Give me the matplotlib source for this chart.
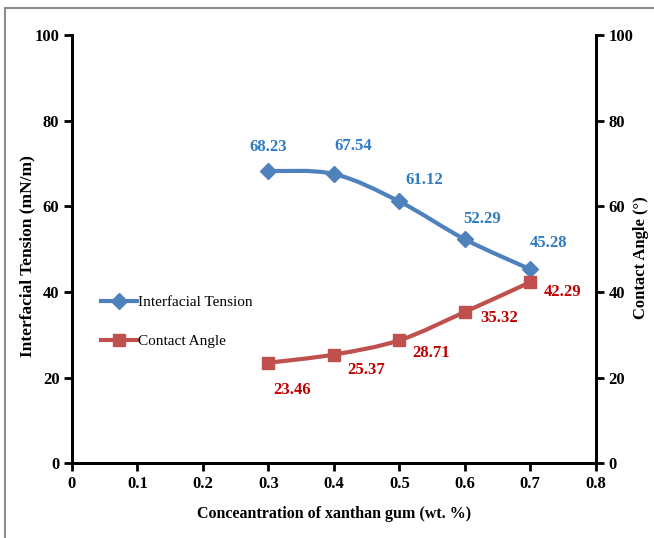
import matplotlib
matplotlib.use("Agg")
import matplotlib.pyplot as plt
from matplotlib.path import Path
from matplotlib.patches import PathPatch
from matplotlib.lines import Line2D
import numpy as np

concentration = [0.3, 0.4, 0.5, 0.6, 0.7]
tension = [68.23, 67.54, 61.12, 52.29, 45.28]
angle = [23.46, 25.37, 28.71, 35.32, 42.29]

blue = "#4f81bd"
red = "#c0504d"
blue_txt = "#2e7bc4"
red_txt = "#c00000"

plt.rcParams["font.family"] = "Liberation Serif"


def smooth_path(xs, ys):
    # Excel-style smoothed line: cubic bezier through every point
    pts = np.column_stack([xs, ys])
    verts = [pts[0]]
    codes = [Path.MOVETO]
    n = len(pts)
    for i in range(n - 1):
        p0 = pts[max(i - 1, 0)]
        p1 = pts[i]
        p2 = pts[i + 1]
        p3 = pts[min(i + 2, n - 1)]
        c1 = p1 + (p2 - p0) / 6.0
        c2 = p2 - (p3 - p1) / 6.0
        verts += [c1, c2, p2]
        codes += [Path.CURVE4] * 3
    return Path(verts, codes)


fig = plt.figure(figsize=(6.54, 5.38), dpi=100)
ax = fig.add_axes([0.110, 0.139, 0.801, 0.796])
ax2 = ax.twinx()

ax.add_patch(PathPatch(smooth_path(concentration, tension), fill=False,
                       edgecolor=blue, lw=3, capstyle="round", zorder=2))
ax.add_patch(PathPatch(smooth_path(concentration, angle), fill=False,
                       edgecolor=red, lw=3, capstyle="round", zorder=2))
ax.plot(concentration, tension, linestyle="none", marker="D", ms=8,
        color=blue, zorder=3)
ax.plot(concentration, angle, linestyle="none", marker="s", ms=9,
        color=red, zorder=3)

blue_off = [(0, 24), (19, 28), (25, 21), (17, 20), (18, 26)]
red_off = [(24, -27), (32, -15), (32, -13), (34, -6), (32, -10)]
for x, y, o in zip(concentration, tension, blue_off):
    ax.annotate(f"{y:.2f}", (x, y), xytext=o, textcoords="offset pixels",
                ha="center", va="center", color=blue_txt, fontsize=12,
                fontweight="bold")
for x, y, o in zip(concentration, angle, red_off):
    ax.annotate(f"{y:.2f}", (x, y), xytext=o, textcoords="offset pixels",
                ha="center", va="center", color=red_txt, fontsize=12,
                fontweight="bold")

ax.set_xlim(0, 0.8)
ax.set_ylim(0, 100)
ax2.set_ylim(0, 100)
ax.set_xticks(np.arange(0, 0.81, 0.1))
ax.set_xticklabels(["0", "0.1", "0.2", "0.3", "0.4", "0.5", "0.6", "0.7", "0.8"])
ax.set_yticks(range(0, 101, 20))
ax2.set_yticks(range(0, 101, 20))

for a in (ax, ax2):
    a.spines["top"].set_visible(False)
    for s in a.spines.values():
        s.set_linewidth(2)
    a.tick_params(width=2, length=6, labelsize=12, pad=3)
    for lab in a.get_xticklabels() + a.get_yticklabels():
        lab.set_fontweight("bold")

ax.set_xlabel("Conceantration of xanthan gum (wt. %)", fontsize=11.5,
              fontweight="bold", labelpad=10)
fig.text(27 / 654, 1 - 256 / 538, "Interfacial Tension (mN/m)", rotation=90,
         ha="center", va="center", fontsize=12.5, fontweight="bold")
fig.text(641 / 654, 1 - 258 / 538, "Contact Angle (°)", rotation=90,
         ha="center", va="center", fontsize=12, fontweight="bold")

handles = [
    Line2D([], [], color=blue, lw=3, marker="D", ms=8),
    Line2D([], [], color=red, lw=3, marker="s", ms=9),
]
ax.legend(handles, ["Interfacial Tension", "Contact Angle"], loc="center left",
          bbox_to_anchor=(0.03, 0.33), frameon=False, fontsize=11,
          handlelength=2.3, handletextpad=0.1, labelspacing=1.65)

# grey frame of the original screenshot (top and left only)
fig.add_artist(Line2D([0.008, 1.0], [0.985, 0.985], transform=fig.transFigure,
                      color="#8c8c8c", lw=1.5))
fig.add_artist(Line2D([0.008, 0.008], [0.0, 0.985], transform=fig.transFigure,
                      color="#8c8c8c", lw=1.5))

fig.savefig("out.png", dpi=100)
